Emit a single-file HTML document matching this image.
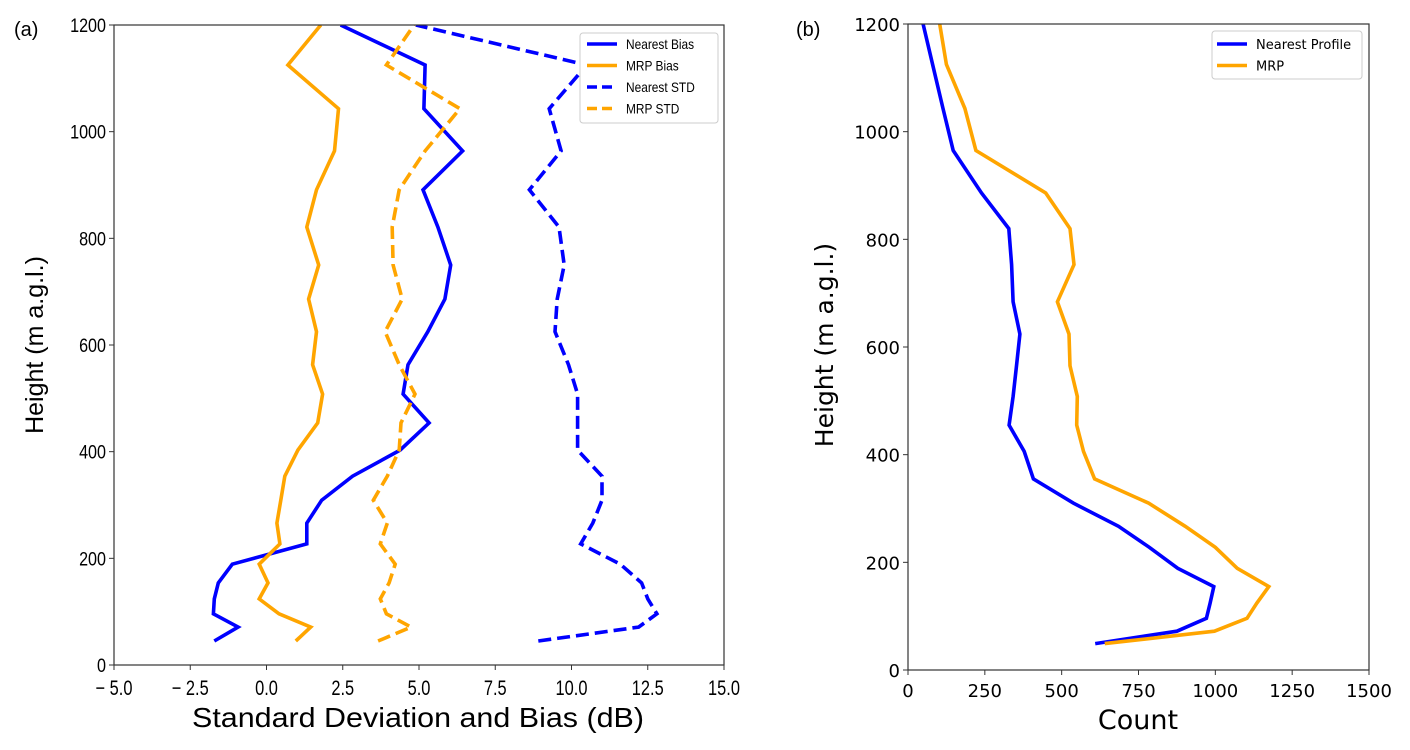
<!DOCTYPE html>
<html><head><meta charset="utf-8"><style>
html,body{margin:0;padding:0;background:#fff;}
svg{display:block;font-family:"Liberation Sans",sans-serif;}
</style></head><body>
<svg id="chart" width="1410" height="750" viewBox="0 0 1410 750" xmlns="http://www.w3.org/2000/svg"></svg>
<script>
// Panel (a) data
const levelsA = [45,71,96,124,154,189,227,266,309,354,403,454,508,563,625,686,750,821,891,964,1043,1125,1200];
const nearestBias = [-1.71,-0.93,-1.74,-1.71,-1.58,-1.12,1.32,1.32,1.81,2.82,4.38,5.33,4.48,4.64,5.29,5.85,6.04,5.62,5.13,6.43,5.16,5.20,2.43];
const mrpBias = [0.96,1.45,0.41,-0.24,0.05,-0.24,0.44,0.34,0.47,0.60,1.03,1.68,1.84,1.51,1.64,1.38,1.71,1.32,1.64,2.23,2.36,0.70,1.78];
const nearestStd = [8.91,12.2,12.8,12.5,12.3,11.6,10.3,10.7,11.0,11.0,10.2,10.2,10.2,9.9,9.46,9.53,9.76,9.59,8.62,9.66,9.27,10.5,4.9];
const mrpStd = [3.66,4.74,3.93,3.73,4.02,4.22,3.73,3.96,3.50,3.96,4.35,4.41,4.87,4.35,3.89,4.45,4.15,4.12,4.35,5.2,6.34,3.93,4.84];
const xTicksA = [-5,-2.5,0,2.5,5,7.5,10,12.5,15];
const yTicks = [0,200,400,600,800,1000,1200];
// Panel (b) data
const levelsB = [49,72,96,124,155,189,228,267,310,355,406,455,508,565,624,684,753,820,886,965,1043,1125,1200];
const nearestCount = [609,875,971,983,995,878,785,685,538,408,378,329,342,353,364,342,337,328,239,147,114,80,49];
const mrpCount = [640,997,1103,1135,1174,1071,1000,902,783,607,571,549,551,527,524,486,540,527,448,221,185,125,103];
const xTicksB = [0,250,500,750,1000,1250,1500];

const svg = document.getElementById('chart');
const NS = 'http://www.w3.org/2000/svg';
function mk(tag, attrs, parent){const e=document.createElementNS(NS,tag);for(const k in attrs)e.setAttribute(k,attrs[k]);(parent||svg).appendChild(e);return e;}
function txt(s, attrs, parent){const e=mk('text',attrs,parent);e.textContent=s;return e;}
function squeeze(e,f){const w=e.getComputedTextLength();if(w>0){e.setAttribute('textLength',(w*f).toFixed(1));e.setAttribute('lengthAdjust','spacingAndGlyphs');}}
function fmtA(v){const s=Math.abs(v).toFixed(1);return v<0?'\u2212 '+s:s;}

// ---- Panel A ----
const A={l:114,r:724,t:25,b:665};
const xA=v=>A.l+(v+5)/20*(A.r-A.l);
const yA=h=>A.b-h/1200*(A.b-A.t);
const gA=mk('g',{});


function series(g, xs, ys, xf, yf, color, dash, name){
  const d=xs.map((v,i)=>(i?'L':'M')+xf(v).toFixed(1)+','+yf(ys[i]).toFixed(1)).join(' ');
  const p=mk('path',{d:d,fill:'none',stroke:color,'stroke-width':3.6,'stroke-linejoin':'miter'},g);
  if(dash)p.setAttribute('stroke-dasharray',dash);
  
  
}
const clipA=mk('clipPath',{id:'ca'});mk('rect',{x:A.l,y:A.t,width:A.r-A.l,height:A.b-A.t},clipA);
const sA=mk('g',{'clip-path':'url(#ca)'},gA);
series(sA,nearestBias,levelsA,xA,yA,'#0000ff',null,'nearest-bias-line');
series(sA,mrpBias,levelsA,xA,yA,'#ffa500',null,'mrp-bias-line');
series(sA,nearestStd,levelsA,xA,yA,'#0000ff','13,6','nearest-std-line');
series(sA,mrpStd,levelsA,xA,yA,'#ffa500','13,6','mrp-std-line');
const frA=mk('rect',{x:A.l,y:A.t,width:A.r-A.l,height:A.b-A.t,fill:'none',stroke:'#333','stroke-width':1.2},gA);

xTicksA.forEach(v=>{
  mk('line',{x1:xA(v),x2:xA(v),y1:A.b,y2:A.b+5,stroke:'#333'},gA);
  const t=txt(fmtA(v),{x:xA(v),y:A.b+30,'font-size':21,'text-anchor':'middle',fill:'#000'},gA);
  
  squeeze(t,0.78);
});
yTicks.forEach(v=>{
  mk('line',{x1:A.l-5,x2:A.l,y1:yA(v),y2:yA(v),stroke:'#333'},gA);
  const t=txt(String(v),{x:A.l-8,y:yA(v)+7,'font-size':19,'text-anchor':'end',fill:'#000'},gA);
  
  squeeze(t,0.85);
});
const xla=txt('Standard Deviation and Bias (dB)',{x:418,y:727,'font-size':28,'text-anchor':'middle',fill:'#000'},gA);

xla.setAttribute('textLength','452');xla.setAttribute('lengthAdjust','spacingAndGlyphs');
const yla=txt('Height (m a.g.l.)',{x:0,y:0,'font-size':25,'text-anchor':'middle',transform:'translate(43,345) rotate(-90)',fill:'#000'},gA);

const pa=txt('(a)',{x:14,y:36,'font-size':20,fill:'#000'},gA);

// legend A
const lgA=mk('g',{},gA);

mk('rect',{x:580,y:33,width:138,height:90,rx:3,fill:'#fff',stroke:'#ccc','stroke-width':1},lgA);
[['Nearest Bias','#0000ff',null],['MRP Bias','#ffa500',null],['Nearest STD','#0000ff','10,5'],['MRP STD','#ffa500','10,5']].forEach((e,i)=>{
  const y=44+i*21.5;
  const g=mk('g',{},lgA);
  
  const l=mk('line',{x1:587,x2:617,y1:y,y2:y,stroke:e[1],'stroke-width':3.6},g);
  if(e[2])l.setAttribute('stroke-dasharray',e[2]);
  const t=txt(e[0],{x:626,y:y+5,'font-size':14,fill:'#000'},g);
  squeeze(t,0.85);
});

// ---- Panel B ----
const B={l:908,r:1369,t:24,b:670};
const xB=v=>B.l+v/1500*(B.r-B.l);
const yB=h=>B.b-h/1200*(B.b-B.t);
const gB=mk('g',{});

const clipB=mk('clipPath',{id:'cb'});mk('rect',{x:B.l,y:B.t,width:B.r-B.l,height:B.b-B.t},clipB);
const sB=mk('g',{'clip-path':'url(#cb)'},gB);
series(sB,nearestCount,levelsB,xB,yB,'#0000ff',null,'nearest-profile-line');
series(sB,mrpCount,levelsB,xB,yB,'#ffa500',null,'mrp-line');
const frB=mk('rect',{x:B.l,y:B.t,width:B.r-B.l,height:B.b-B.t,fill:'none',stroke:'#333','stroke-width':1.2},gB);

xTicksB.forEach(v=>{
  mk('line',{x1:xB(v),x2:xB(v),y1:B.b,y2:B.b+5,stroke:'#333'},gB);
  const t=txt(String(v),{x:xB(v),y:B.b+27,'font-size':18,'text-anchor':'middle',fill:'#000','font-family':'DejaVu Sans, sans-serif'},gB);
  
});
yTicks.forEach(v=>{
  mk('line',{x1:B.l-5,x2:B.l,y1:yB(v),y2:yB(v),stroke:'#333'},gB);
  const t=txt(String(v),{x:B.l-8,y:yB(v)+7,'font-size':18,'text-anchor':'end',fill:'#000','font-family':'DejaVu Sans, sans-serif'},gB);
  
});
const xlb=txt('Count',{x:1138,y:729,'font-size':27,'text-anchor':'middle',fill:'#000','font-family':'DejaVu Sans, sans-serif'},gB);

const ylb=txt('Height (m a.g.l.)',{x:0,y:0,'font-size':25,'text-anchor':'middle',transform:'translate(833,345) rotate(-90)',fill:'#000','font-family':'DejaVu Sans, sans-serif'},gB);

const pb=txt('(b)',{x:796,y:36,'font-size':20,fill:'#000'},gB);

const lgB=mk('g',{},gB);

mk('rect',{x:1212,y:31,width:150,height:48,rx:3,fill:'#fff',stroke:'#ccc','stroke-width':1},lgB);
[['Nearest Profile','#0000ff'],['MRP','#ffa500']].forEach((e,i)=>{
  const y=44+i*21.5;
  const g=mk('g',{},lgB);
  
  mk('line',{x1:1217,x2:1247,y1:y,y2:y,stroke:e[1],'stroke-width':3.6},g);
  txt(e[0],{x:1256,y:y+5,'font-size':13,fill:'#000','font-family':'DejaVu Sans, sans-serif'},g);
});
</script>
</body></html>
